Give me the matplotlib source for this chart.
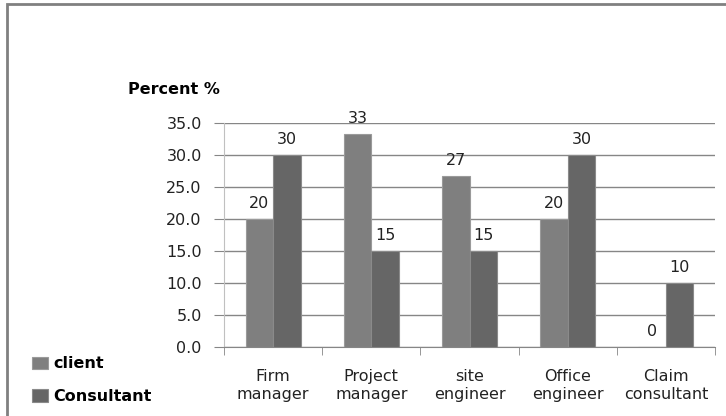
import matplotlib.pyplot as plt
import numpy as np
from matplotlib.patches import Rectangle

# data
categories = ['Firm\nmanager', 'Project\nmanager', 'site\nengineer', 'Office\nengineer', 'Claim\nconsultant']
client = [20, 33.3, 26.7, 20, 0]
consultant = [30, 15, 15, 30, 10]
client_labels = ['20', '33', '27', '20', '0']
consultant_labels = ['30', '15', '15', '30', '10']
yticks = [0, 5, 10, 15, 20, 25, 30, 35]

fig = plt.figure(figsize=(7.26, 4.16), dpi=100)
ax = fig.add_axes([224 / 726, 1 - 347 / 416, (715 - 224) / 726, (347 - 123) / 416])

# outer frame
fig.patches.append(Rectangle((7 / 726, -0.1), 1.2, 1.1 - 4 / 416, transform=fig.transFigure,
                             fill=False, edgecolor='#808080', linewidth=2))

x = np.arange(len(categories))
w = 0.28
b1 = ax.bar(x - w / 2, client, w, color='#7f7f7f', edgecolor='#9a9a9a', linewidth=0.8, label='client', zorder=3)
b2 = ax.bar(x + w / 2, consultant, w, color='#666666', edgecolor='#8a8a8a', linewidth=0.8, label='Consultant', zorder=3)

for rect, lab in zip(b1, client_labels):
    ax.annotate(lab, (rect.get_x() + rect.get_width() / 2, rect.get_height()), xytext=(0, 6),
                textcoords='offset points', ha='center', va='bottom', fontsize=11.5, color='#222222', zorder=4)
for rect, lab in zip(b2, consultant_labels):
    ax.annotate(lab, (rect.get_x() + rect.get_width() / 2, rect.get_height()), xytext=(0, 6),
                textcoords='offset points', ha='center', va='bottom', fontsize=11.5, color='#222222', zorder=4)

ax.set_ylim(0, 35)
ax.set_xlim(-0.5, len(categories) - 0.5)
ax.set_yticks(yticks)
ax.set_yticklabels(['%.1f' % v for v in yticks], fontsize=11.5, color='#222222')
ax.yaxis.grid(True, color='#868686', linewidth=1, zorder=0)
ax.tick_params(axis='y', length=7, color='#868686', pad=9)

ax.set_xticks(x)
ax.set_xticklabels(categories, fontsize=11.5, color='#222222')
ax.set_xticks(np.arange(-0.5, len(categories), 1), minor=True)
ax.tick_params(axis='x', which='major', length=0, pad=16)
ax.tick_params(axis='x', which='minor', length=6, color='#868686')

for s in ['top', 'right']:
    ax.spines[s].set_visible(False)
ax.spines['left'].set_color('#c0c0c0')
ax.spines['bottom'].set_color('#868686')

fig.text(128 / 726, 1 - 90 / 416, 'Percent %', fontsize=11.5, fontweight='bold', va='center', ha='left')

fig.legend(handles=[b1, b2], labels=['client', 'Consultant'], loc='upper left',
           bbox_to_anchor=(18 / 726, 1 - 342 / 416), frameon=False,
           prop={'weight': 'bold', 'size': 11.5}, handlelength=1.0, handleheight=0.8,
           handletextpad=0.3, labelspacing=1.1)

fig.savefig('out.png', dpi=100)
